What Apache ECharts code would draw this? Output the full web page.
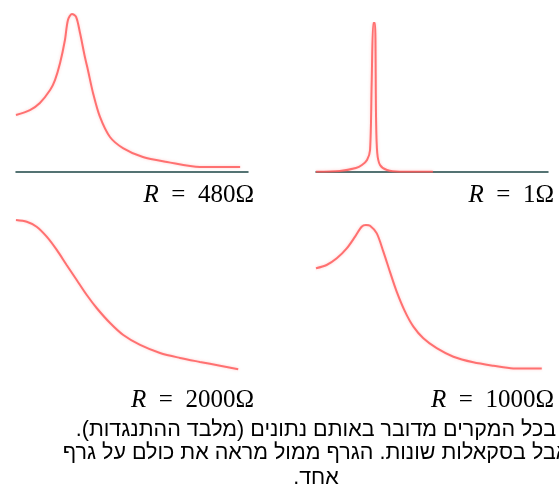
<!DOCTYPE html>
<html>
<head>
<meta charset="utf-8">
<script src="https://cdn.jsdelivr.net/npm/echarts@6/dist/echarts.min.js"></script>
<style>
html,body{margin:0;padding:0;background:#fff;}
#c{width:559px;height:490px;}
</style>
</head>
<body>
<div id="c"></div>
<script>
// Panel 1: R = 480 Ohm (relative frequency, relative amplitude)
const p1X = [0, 6.0, 10.3, 14.7, 16.8, 19.0, 21.1, 22.4, 24.1, 25.9, 27.6, 29.7, 31.0, 33.2, 36.2, 40.5, 46.1, 54.7, 65.1, 79.3, 96.6];
const p1Y = [36.0, 39.1, 43.6, 51.8, 58.1, 68.9, 83.5, 96.2, 100, 98.2, 87.9, 72.7, 64.5, 49.9, 34.7, 22.0, 15.0, 9.3, 6.2, 3.0, 3.0];
// Panel 2: R = 1 Ohm
const p2X = [0, 10.3, 17.2, 19.8, 22.0, 23.3, 24.0, 24.7, 25.4, 25.9, 26.4, 27.6, 30.6, 36.2, 50.4];
const p2Y = [0, 0.5, 2.5, 4.5, 7.9, 14.6, 59.6, 100, 100, 34.8, 12.6, 4.5, 1.1, 0, 0];
// Panel 3: R = 2000 Ohm
const p3X = [0, 4.8, 9.2, 13.7, 18.2, 22.6, 27.1, 31.6, 36.0, 42.0, 47.9, 55.4, 64.3, 73.2, 82.1, 91.1, 99.2];
const p3Y = [100, 98.9, 95.8, 89.6, 81.3, 71.9, 62.5, 53.1, 45.0, 35.6, 28.1, 21.9, 16.9, 13.8, 11.3, 8.9, 6.7];
// Panel 4: R = 1000 Ohm
const p4X = [0, 4.7, 9.2, 13.6, 17.3, 20.2, 22.1, 23.9, 26.9, 29.8, 32.7, 35.7, 39.4, 43.1, 47.5, 53.4, 60.8, 69.6, 78.5, 87.3, 99.9];
const p4Y = [72.1, 74.2, 78.5, 84.9, 92.5, 98.9, 100, 99.5, 94.6, 82.8, 69.9, 57.0, 44.1, 34.4, 26.9, 20.5, 15.0, 11.4, 9.2, 7.5, 7.5];

const labels = ['480Ω', '1Ω', '2000Ω', '1000Ω'];
const captionLines = [
  'בכל המקרים מדובר באותם נתונים (מלבד ההתנגדות).',
  'אבל בסקאלות שונות. הגרף ממול מראה את כולם על גרף',
  'אחד.'
];

const zip = (xs, ys) => xs.map((x, i) => [x, ys[i]]);
const series = [zip(p1X, p1Y), zip(p2X, p2Y), zip(p3X, p3Y), zip(p4X, p4Y)];

const grids = [
  {left: 16, width: 232, top: 14, height: 157.7},
  {left: 316, width: 232, top: 23, height: 148.7},
  {left: 16, width: 224, top: 220, height: 160},
  {left: 316, width: 226, top: 225, height: 155}
];
const showAxis = [true, true, false, false];

const chart = echarts.init(document.getElementById('c'), null, {renderer: 'canvas'});

const labelPos = [
  {x: 254, y: 195}, {x: 554, y: 195}, {x: 254, y: 400}, {x: 554, y: 400}
];
const rich = {
  i: {fontFamily: 'Liberation Serif', fontStyle: 'italic', fontSize: 25, color: '#000'},
  n: {fontFamily: 'Liberation Serif', fontSize: 25, color: '#000'}
};

const graphic = [];
labels.forEach((l, k) => {
  graphic.push({
    type: 'text', x: labelPos[k].x, y: labelPos[k].y,
    style: {text: '{i|R}{n|\u2002=\u2002' + l + '}', rich: rich, align: 'right', verticalAlign: 'middle'}
  });
});
const capY = [430, 453, 478];
captionLines.forEach((t, k) => {
  graphic.push({
    type: 'text', x: 316, y: capY[k],
    style: {text: '\u202B' + t + '\u202C', font: '21.5px "Liberation Sans"', fill: '#000', align: 'center', verticalAlign: 'middle'}
  });
});

chart.setOption({
  animation: false,
  backgroundColor: '#fff',
  grid: grids.map(g => Object.assign({containLabel: false}, g)),
  xAxis: grids.map((g, k) => ({
    type: 'value', gridIndex: k, min: 0, max: 100,
    axisLine: {show: showAxis[k], onZero: false, lineStyle: {color: '#1d4545', width: 1.5}},
    axisTick: {show: false}, axisLabel: {show: false}, splitLine: {show: false}
  })),
  yAxis: grids.map((g, k) => ({
    type: 'value', gridIndex: k, min: 0, max: 100, show: false
  })),
  series: series.map((d, k) => ({
    type: 'line', xAxisIndex: k, yAxisIndex: k, data: d,
    smooth: 0.3, symbol: 'none', z: 3,
    lineStyle: {color: '#ff5c5c', width: 2, opacity: 0.85, shadowColor: 'rgba(255,90,90,0.35)', shadowBlur: 3}
  })),
  graphic: graphic
});
</script>
</body>
</html>
